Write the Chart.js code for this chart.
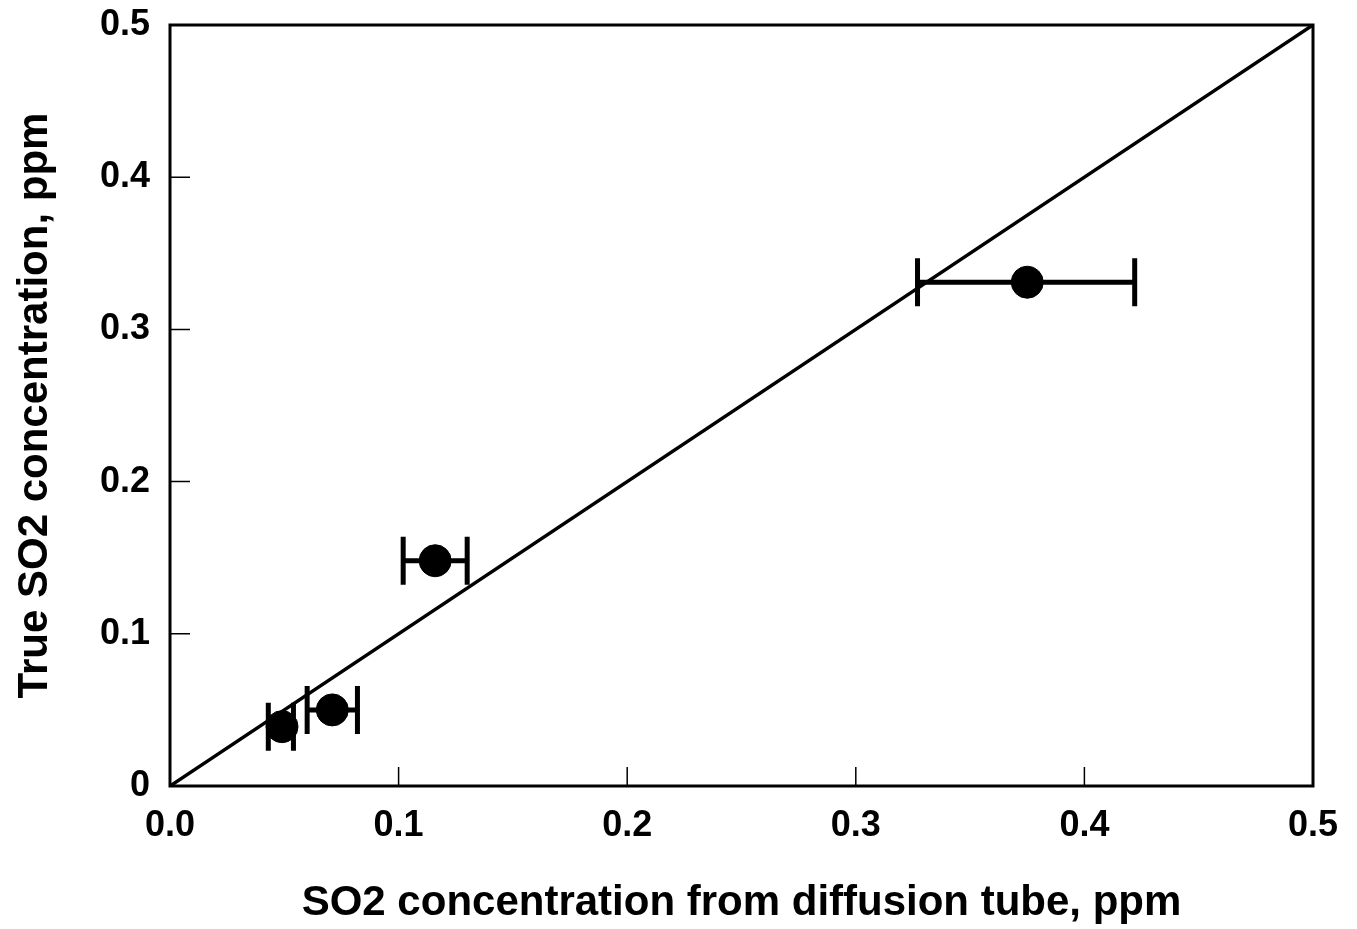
<!DOCTYPE html>
<html>
<head>
<meta charset="utf-8">
<script src="https://cdn.jsdelivr.net/npm/chart.js@4/dist/chart.umd.min.js"></script>
<style>
  html, body { margin: 0; padding: 0; background: #fff; }
  #wrap { width: 1357px; height: 929px; }
</style>
</head>
<body>
<div id="wrap"><canvas id="so2Chart"></canvas></div>
<script>
// Data
const diffusionTube = [0.049, 0.071, 0.116, 0.375];   // x, ppm
const trueConc = [0.039, 0.050, 0.148, 0.331];        // y, ppm
const errLow = [0.043, 0.060, 0.102, 0.327];          // x error bar low end
const errHigh = [0.054, 0.082, 0.130, 0.422];         // x error bar high end
const xTickLabels = ["0.0", "0.1", "0.2", "0.3", "0.4", "0.5"];
const yTickLabels = ["0", "0.1", "0.2", "0.3", "0.4", "0.5"];
const oneToOne = [0, 0.5];

const points = diffusionTube.map((x, i) => ({ x: x, y: trueConc[i] }));

// Draws horizontal error bars, the frame and the inward ticks
const extrasPlugin = {
  id: "extras",
  afterDatasetsDraw(chart) {
    const ctx = chart.ctx;
    const xs = chart.scales.x;
    const ys = chart.scales.y;
    const area = chart.chartArea;

    ctx.save();
    ctx.strokeStyle = "#000";
    ctx.lineWidth = 5;
    for (let i = 0; i < errLow.length; i++) {
      const y = ys.getPixelForValue(trueConc[i]);
      const x1 = xs.getPixelForValue(errLow[i]);
      const x2 = xs.getPixelForValue(errHigh[i]);
      ctx.beginPath();
      ctx.moveTo(x1, y);
      ctx.lineTo(x2, y);
      ctx.moveTo(x1, y - 24);
      ctx.lineTo(x1, y + 24);
      ctx.moveTo(x2, y - 24);
      ctx.lineTo(x2, y + 24);
      ctx.stroke();
    }

    // frame
    ctx.lineWidth = 3;
    ctx.strokeRect(area.left, area.top, area.right - area.left, area.bottom - area.top);

    // inward ticks
    ctx.lineWidth = 1.5;
    ctx.beginPath();
    for (let v = 0.1; v < 0.45; v += 0.1) {
      const px = xs.getPixelForValue(v);
      ctx.moveTo(px, area.bottom);
      ctx.lineTo(px, area.bottom - 19);
      const py = ys.getPixelForValue(v);
      ctx.moveTo(area.left, py);
      ctx.lineTo(area.left + 20, py);
    }
    ctx.stroke();
    ctx.restore();
  }
};

const tickFont = { family: "'Liberation Sans', Arial, sans-serif", size: 36, weight: "bold" };
const titleFont = { family: "'Liberation Sans', Arial, sans-serif", size: 42, weight: "bold" };

new Chart(document.getElementById("so2Chart"), {
  type: "scatter",
  data: {
    datasets: [
      {
        label: "Measured",
        data: points,
        backgroundColor: "#000",
        borderColor: "#000",
        pointRadius: 16,
        pointHoverRadius: 16
      },
      {
        type: "line",
        label: "1:1",
        data: oneToOne.map(v => ({ x: v, y: v })),
        borderColor: "#000",
        borderWidth: 3.5,
        pointRadius: 0,
        fill: false
      }
    ]
  },
  options: {
    responsive: true,
    maintainAspectRatio: false,
    animation: false,
    layout: { padding: { top: 25, right: 44, left: 0, bottom: 0 } },
    plugins: {
      legend: { display: false },
      tooltip: { enabled: false }
    },
    scales: {
      x: {
        type: "linear",
        min: 0,
        max: 0.5,
        grid: { display: false, drawTicks: false },
        border: { display: false },
        ticks: {
          stepSize: 0.1,
          padding: 18,
          color: "#000",
          font: tickFont,
          callback: (v, i) => xTickLabels[i]
        },
        title: {
          display: true,
          text: "SO2 concentration from diffusion tube, ppm",
          color: "#000",
          font: titleFont,
          padding: { top: 0, bottom: 0 }
        },
        afterFit: (scale) => {
          scale.height = 143;
          scale.paddingLeft = 0;
          scale.paddingRight = 0;
        }
      },
      y: {
        type: "linear",
        min: 0,
        max: 0.5,
        grid: { display: false, drawTicks: false },
        border: { display: false },
        ticks: {
          stepSize: 0.1,
          padding: 20,
          color: "#000",
          font: tickFont,
          callback: (v, i) => yTickLabels[i]
        },
        title: {
          display: true,
          text: "True SO2 concentration, ppm",
          color: "#000",
          font: titleFont,
          padding: { top: 10, bottom: 0 }
        },
        afterFit: (scale) => {
          scale.width = 170;
          scale.paddingTop = 0;
          scale.paddingBottom = 0;
        }
      }
    }
  },
  plugins: [extrasPlugin]
});
</script>
</body>
</html>
